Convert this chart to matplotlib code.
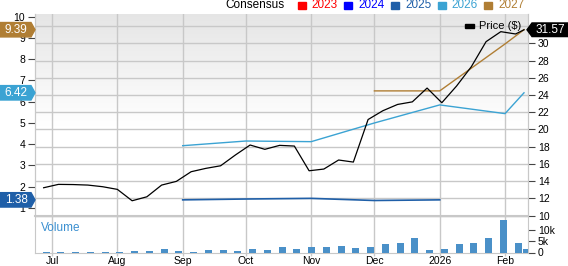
import matplotlib
matplotlib.use("Agg")
import matplotlib.pyplot as plt
import matplotlib.dates as mdates
import matplotlib.transforms as mtransforms
from matplotlib.patches import Polygon, Rectangle
import numpy as np
import datetime as dt

plt.rcParams['font.family'] = ['Liberation Sans', 'DejaVu Sans']

# ---------------- data ----------------
price_dates = ["2025-06-27", "2025-07-04", "2025-07-11", "2025-07-18", "2025-07-25",
               "2025-08-01", "2025-08-08", "2025-08-15", "2025-08-22", "2025-08-29",
               "2025-09-05", "2025-09-12", "2025-09-19", "2025-09-26", "2025-10-03",
               "2025-10-10", "2025-10-17", "2025-10-24", "2025-10-31", "2025-11-07",
               "2025-11-14", "2025-11-21", "2025-11-28", "2025-12-05", "2025-12-12",
               "2025-12-19", "2025-12-26", "2026-01-02", "2026-01-09", "2026-01-16",
               "2026-01-23", "2026-01-30", "2026-02-06", "2026-02-10"]
price = [13.23, 13.62, 13.60, 13.54, 13.35, 13.04, 11.72, 12.18, 13.54, 13.97,
         15.09, 15.48, 15.78, 17.03, 18.19, 17.69, 18.15, 18.07, 15.20, 15.40,
         16.45, 16.21, 21.15, 22.17, 22.90, 23.20, 24.80, 23.10, 25.04, 27.28,
         30.19, 31.35, 31.08, 31.57]
volume_k = [0.27, 0.27, 0.27, 0.44, 0.44, 0.44, 0.58, 0.70, 1.46, 0.88,
            0.44, 1.30, 1.00, 0.58, 1.60, 1.00, 2.48, 1.46, 2.35, 2.65,
            2.79, 2.20, 2.48, 3.98, 4.42, 6.33, 1.15, 1.77, 3.98, 4.10,
            6.33, 14.30, 4.10, 1.46]

eps2025_dates = ["2025-09-01", "2025-10-01", "2025-11-01", "2025-12-01", "2026-01-01"]
eps2025 = [1.38, 1.42, 1.45, 1.35, 1.38]
eps2026_dates = ["2025-09-01", "2025-10-01", "2025-11-01", "2025-12-01", "2026-01-01",
                 "2026-02-01", "2026-02-10"]
eps2026 = [3.93, 4.15, 4.12, 5.00, 5.85, 5.44, 6.42]
eps2027_dates = ["2025-12-01", "2026-01-01", "2026-02-01", "2026-02-10"]
eps2027 = [6.51, 6.51, 8.72, 9.39]

month_ticks = ["2025-07-01", "2025-08-01", "2025-09-01", "2025-10-01", "2025-11-01",
               "2025-12-01", "2026-01-01", "2026-02-01"]
month_labels = ["Jul", "Aug", "Sep", "Oct", "Nov", "Dec", "2026", "Feb"]

legend_years = ["2023", "2024", "2025", "2026", "2027"]
legend_colors = ["#ff0000", "#0000ff", "#1f5fa8", "#3ba3d3", "#b07e34"]

# ---------------- helpers ----------------
W, H = 568, 266
def d(s):
    return mdates.date2num(dt.datetime.strptime(s, "%Y-%m-%d"))

def rect(x0, y0, x1, y1):
    return [x0 / W, 1 - y1 / H, (x1 - x0) / W, (y1 - y0) / H]

pdates = np.array([d(s) for s in price_dates])
mt = [d(s) for s in month_ticks]
xlim = (d("2025-06-22") + 0.9, d("2026-02-11") + 0.9)

GRID = "#c8c8c8"
C25, C26, C27 = legend_colors[2], legend_colors[3], legend_colors[4]

fig = plt.figure(figsize=(W / 100, H / 100), dpi=100)

# ---------------- main panel ----------------
ax = fig.add_axes(rect(35, 14, 528, 216))
ax2 = ax.twinx()
ax.set_zorder(ax2.get_zorder() + 1)
ax.patch.set_visible(False)

# gradient background on ax2 (gray at top, white below the middle)
grad = np.linspace(0, 1, 256)
g = np.clip((grad - 0.45) / 0.55, 0, 1)
col = 1 - g * (1 - 0.90)
img = np.dstack([col, col, col]).reshape(256, 1, 3)
ax2.imshow(img, extent=[0, 1, 0, 1], transform=ax2.transAxes, aspect='auto',
           origin='lower', zorder=0)

ax.set_xlim(*xlim)
ax.set_ylim(0.62, 10.13)
ax2.set_ylim(9.95, 33.4)
ax2.set_xlim(*xlim)

ax2.set_yticks(range(10, 33, 2))
ax2.set_yticklabels([str(v) for v in range(10, 33, 2)][:-1] + [""])
ax2.grid(axis='y', color=GRID, lw=1)
for m in mt:
    ax2.axvline(m, color=GRID, lw=1, zorder=1)
ax2.set_axisbelow(True)

ax.set_yticks(range(1, 11))
ax.set_xticks([])
ax2.set_xticks([])

for a in (ax, ax2):
    for s in a.spines.values():
        s.set_color(GRID)
    a.spines['bottom'].set_visible(False)
    a.spines['top'].set_visible(False)
ax.tick_params(axis='y', length=5, width=0.8, color="#444444", labelsize=7.5, pad=2)
ax2.tick_params(axis='y', length=5, width=0.8, color="#444444", labelsize=7.5, pad=2)

ax.plot([d(s) for s in eps2025_dates], eps2025, color=C25, lw=1.2, zorder=3)
ax.plot([d(s) for s in eps2026_dates], eps2026, color=C26, lw=1.0, zorder=3)
ax.plot([d(s) for s in eps2027_dates], eps2027, color=C27, lw=1.0, zorder=3)
ax.plot(pdates, price, color="black", lw=0.9, zorder=4, transform=ax2.transData)

# price legend
fig.add_artist(Rectangle(((465) / W, 1 - 28 / H), 9 / W, 4.5 / H,
                         transform=fig.transFigure, color="black"))
fig.text(479 / W, 1 - 26 / H, "Price ($)", fontsize=8, va='center', ha='left')

# ---------------- volume panel ----------------
axv = fig.add_axes(rect(35, 216, 528, 252.5))
axv.set_xlim(*xlim)
axv.set_ylim(0, 16.2)
axv.bar(pdates + 1.2, volume_k, width=3.4, color="#4a90c8", zorder=3)
axv.axhspan(15.2, 16.2, color="#eeeeee", zorder=1, lw=0)
for m in mt:
    axv.axvline(m, color=GRID, lw=1, zorder=2)
axv.yaxis.tick_right()
axv.set_yticks([0, 5, 10])
axv.set_yticklabels(["0", "5k", "10k"])
axv.set_xticks(mt)
axv.set_xticklabels(month_labels)
axv.tick_params(axis='y', length=5, width=0.8, color="#444444", labelsize=7.5, pad=2)
axv.tick_params(axis='x', length=2.5, width=1, color=GRID, labelsize=7.5, pad=0)
for k, s in axv.spines.items():
    s.set_color(GRID)
axv.spines['top'].set_linewidth(1.5)
axv.text(6 / 493, 0.66, "Volume", transform=axv.transAxes, color="#3a8fd0",
         fontsize=8.5, va='center', ha='left')

# ---------------- value tags ----------------
ID = mtransforms.IdentityTransform()
def ypix_of(a, v):
    return a.transData.transform((xlim[0], v))[1]

def left_tag(v, color, text):
    yc = ypix_of(ax, v)
    h = 7.2
    pts = [(0, yc - h), (31, yc - h), (35, yc), (31, yc + h), (0, yc + h)]
    fig.add_artist(Polygon(pts, closed=True, transform=ID, color=color, zorder=10))
    fig.text(16 / W, yc / H, text, color="white", fontsize=8.5, ha='center',
             va='center', zorder=11)

left_tag(eps2027[-1], C27, "9.39")
left_tag(eps2026[-1], C26, "6.42")
left_tag(eps2025[-1], C25, "1.38")

yc = ypix_of(ax2, price[-1])
h = 6.8
pts = [(527, yc), (532, yc - h), (568, yc - h), (568, yc + h), (532, yc + h)]
fig.add_artist(Polygon(pts, closed=True, transform=ID, color="black", zorder=10))
fig.text(550 / W, yc / H, "31.57", color="white", fontsize=8.5, ha='center',
         va='center', zorder=11)

# ---------------- top legend ----------------
ty = 1 - 5.5 / H
fig.text(284 / W, ty, "Consensus", fontsize=8.5, ha='right', va='center')
sq_x = [297.7, 344.3, 391, 437.7, 484.3]
for x, yr, c in zip(sq_x, legend_years, legend_colors):
    fig.add_artist(Rectangle((x / W, 1 - 9 / H), 8 / W, 7 / H,
                             transform=fig.transFigure, color=c))
    fig.text((x + 14) / W, ty, yr, fontsize=8.5, color=c, ha='left', va='center')

fig.savefig("out.png", dpi=100)
